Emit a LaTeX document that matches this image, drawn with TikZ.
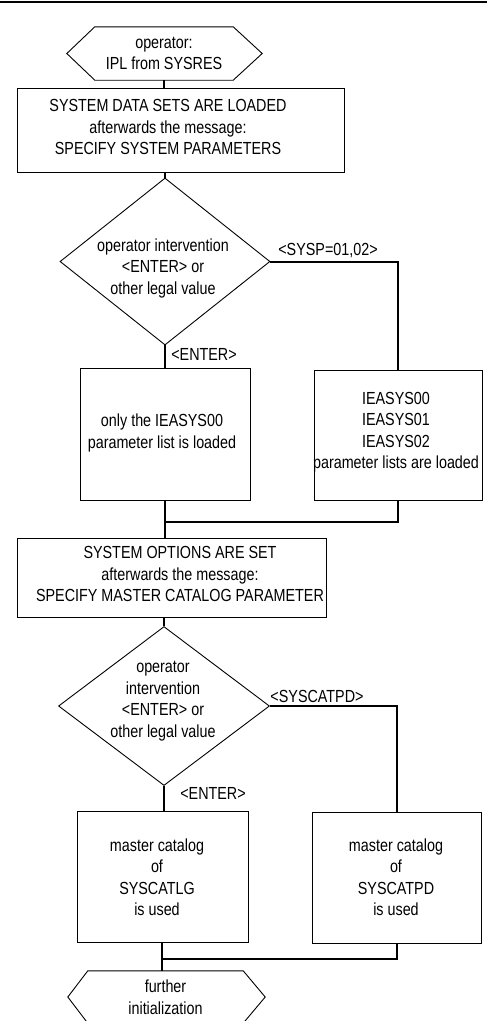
\documentclass[tikz,border=0pt]{standalone}
\usepackage{fontspec}
\setmainfont{Liberation Sans}[FakeStretch=0.82]
\usetikzlibrary{shapes.geometric,calc}
\begin{document}
\begin{tikzpicture}[x=1pt,y=-1pt,
  box/.style={draw, line width=0.9pt, rectangle, inner sep=0},
  txt/.style={font=\fontsize{17.5}{21.5}\selectfont, align=center, inner sep=0},
  cond/.style={diamond, draw, line width=0.9pt, inner sep=0},
  term/.style={txt, rectangle},
  outline/.style={line width=0.9pt, line join=miter},
  flow/.style={line width=2pt, line join=miter}]
\useasboundingbox (0,0) rectangle (487,1021);

% rule at the top of the page
\coordinate (ruleL) at (0,2);
\coordinate (ruleR) at (487,2);
\draw[line width=2pt] (ruleL) -- (ruleR);

% start terminal
\node[term, minimum width=138, minimum height=53] (h1) at (164,53.5) {operator:\\IPL from SYSRES};
\draw[outline] (h1.north west) -- (h1.north east) -- ($(h1.east)+(29,0)$) -- (h1.south east)
  -- (h1.south west) -- ($(h1.west)+(-28,0)$) -- cycle;

% system data sets
\node[box, minimum width=327, minimum height=84] (b1) at (180.5,130) {};
\node[txt] (b1t) at (168,127) {SYSTEM DATA SETS ARE LOADED\\afterwards the message:\\SPECIFY SYSTEM PARAMETERS};

% first decision
\node[cond, minimum width=210, minimum height=167] (d1) at (165,261.5) {};
\node[txt] (d1t) at (163,268) {operator intervention\\\textless ENTER\textgreater{} or\\other legal value};

% branch results
\node[box, minimum width=170, minimum height=132] (b2) at (165,434) {};
\node[txt] (b2t) at (162,433) {only the IEASYS00\\parameter list is loaded};
\node[box, minimum width=168, minimum height=130] (b3) at (398,435) {};
\node[txt] (b3t) at (396,432) {IEASYS00\\IEASYS01\\IEASYS02\\parameter lists are loaded};

% system options
\node[box, minimum width=309, minimum height=79] (b4) at (171.5,577.5) {};
\node[txt] (b4t) at (180,574) {SYSTEM OPTIONS ARE SET\\afterwards the message:\\SPECIFY MASTER CATALOG PARAMETER};

% second decision
\node[cond, minimum width=211, minimum height=159] (d2) at (164,706) {};
\node[txt] (d2t) at (163,701) {operator\\intervention\\\textless ENTER\textgreater{} or\\other legal value};

% catalog results
\node[box, minimum width=171, minimum height=131] (b5) at (162.5,876.5) {};
\node[txt] (b5t) at (157,877) {master catalog\\of\\SYSCATLG\\is used};
\node[box, minimum width=169, minimum height=131] (b6) at (397,877.5) {};
\node[txt] (b6t) at (396,877) {master catalog\\of\\SYSCATPD\\is used};

% end terminal
\node[term, minimum width=155, minimum height=52] (h2) at (165.5,997) {further\\initialization};
\draw[outline] (h2.north west) -- (h2.north east) -- ($(h2.east)+(22,0)$) -- (h2.south east)
  -- (h2.south west) -- ($(h2.west)+(-20,0)$) -- cycle;

% flow lines
\draw[flow] (h1.south) -- (h1.south |- b1.north);
\draw[flow] (d1.north |- b1.south) -- (d1.north);
\draw[flow] (d1.east) -| (b3.north);
\draw[flow] (d1.south) -- (b2.north);
\coordinate (m1) at (165,522);
\draw[flow] (b3.south) |- (m1);
\draw[flow] (b2.south) -- (b2.south |- b4.north);
\draw[flow] (d2.north |- b4.south) -- (d2.north);
\draw[flow] (d2.east) -| (b6.north);
\draw[flow] (d2.south) -- (d2.south |- b5.north);
\coordinate (m2) at (162,959);
\draw[flow] (b6.south) |- (m2);
\draw[flow] (m2 |- b5.south) -- (m2 |- h2.north);

% branch labels
\node[txt] (l1) at (328,251) {\textless SYSP=01,02\textgreater};
\node[txt] (l2) at (204,354) {\textless ENTER\textgreater};
\node[txt] (l3) at (317,696) {\textless SYSCATPD\textgreater};
\node[txt] (l4) at (213,793) {\textless ENTER\textgreater};
\end{tikzpicture}
\end{document}
